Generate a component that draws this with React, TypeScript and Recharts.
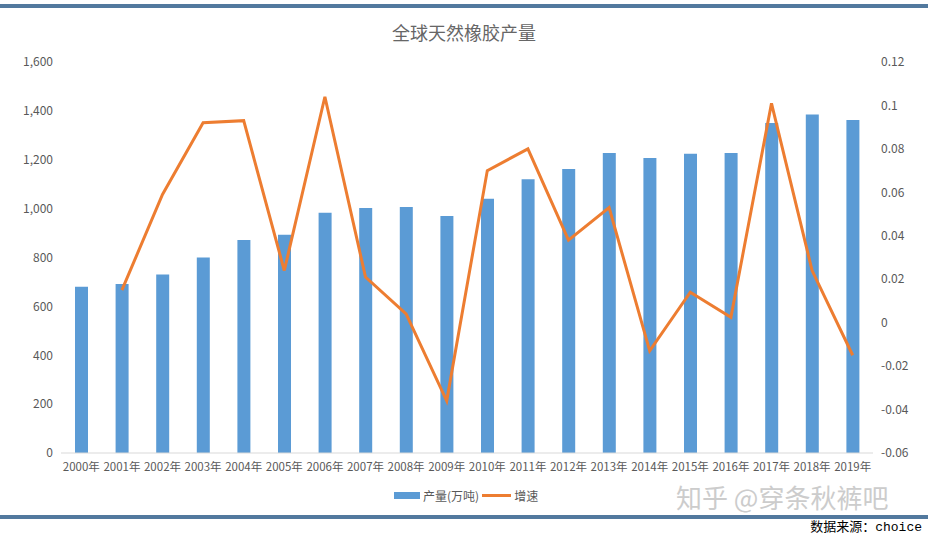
import React from 'react';
import { ComposedChart, Bar, Line, XAxis, YAxis } from 'recharts';

const years = ['2000年', '2001年', '2002年', '2003年', '2004年', '2005年', '2006年', '2007年', '2008年', '2009年', '2010年', '2011年', '2012年', '2013年', '2014年', '2015年', '2016年', '2017年', '2018年', '2019年'];
const output = [680, 692, 730, 800, 872, 893, 983, 1003, 1007, 970, 1040, 1120, 1162, 1228, 1207, 1225, 1228, 1350, 1385, 1363];
const growth: (number | null)[] = [null, 0.015, 0.059, 0.092, 0.093, 0.024, 0.104, 0.021, 0.004, -0.036, 0.07, 0.08, 0.038, 0.053, -0.013, 0.014, 0.0025, 0.101, 0.024, -0.015];
const leftTicks = [0, 200, 400, 600, 800, 1000, 1200, 1400, 1600];
const rightTicks = [-0.06, -0.04, -0.02, 0, 0.02, 0.04, 0.06, 0.08, 0.1, 0.12];

const data = years.map((y, i) => ({ year: y, output: output[i], growth: growth[i] }));

const CJK = "'Noto Sans CJK SC', 'Microsoft YaHei', sans-serif";
const tickStyle = { fill: '#595959', fontSize: 12, fontFamily: CJK };

export default function App() {
  return (
    <div style={{ position: 'absolute', left: 0, top: 0, width: 928, height: 536, background: '#fff', overflow: 'hidden', fontFamily: CJK }}>
      <div style={{ position: 'absolute', left: 0, top: 4, width: 928, height: 3.5, background: '#52799E' }} />
      <div style={{ position: 'absolute', left: 0, top: 22, width: 928, textAlign: 'center', fontSize: 18, color: '#666666', lineHeight: '20px' }}>
        全球天然橡胶产量
      </div>
      <ComposedChart
        width={928}
        height={536}
        data={data}
        margin={{ top: 62, right: 0, bottom: 53, left: 0 }}
        style={{ position: 'absolute', left: 0, top: 0 }}
      >
        <XAxis
          dataKey="year"
          interval={0}
          tickLine={false}
          axisLine={{ stroke: '#D9D9D9' }}
          tick={{ ...tickStyle, fontSize: 11.5 }}
          height={30}
          tickMargin={4}
        />
        <YAxis
          yAxisId="left"
          orientation="left"
          width={61}
          domain={[0, 1600]}
          ticks={leftTicks}
          interval={0}
          axisLine={false}
          tickLine={false}
          tick={tickStyle}
          tickFormatter={(v: number) => v.toLocaleString('en-US')}
        />
        <YAxis
          yAxisId="right"
          orientation="right"
          width={55}
          domain={[-0.06, 0.12]}
          ticks={rightTicks}
          interval={0}
          axisLine={false}
          tickLine={false}
          tick={{ ...tickStyle, textAnchor: 'start' }}
          tickFormatter={(v: number) => String(Number(v.toFixed(2)))}
        />
        <Bar yAxisId="left" dataKey="output" fill="#5B9BD5" barSize={13} isAnimationActive={false} />
        <Line
          yAxisId="right"
          dataKey="growth"
          stroke="#ED7D31"
          strokeWidth={3}
          dot={false}
          activeDot={false}
          connectNulls={false}
          isAnimationActive={false}
          type="linear"
        />
      </ComposedChart>
      <div style={{ position: 'absolute', left: 394, top: 487, height: 16, display: 'flex', alignItems: 'center', fontSize: 12, color: '#595959', whiteSpace: 'nowrap' }}>
        <span style={{ display: 'inline-block', width: 26, height: 7, background: '#5B9BD5', marginRight: 3 }} />
        <span>产量(万吨)</span>
        <span style={{ display: 'inline-block', width: 29, height: 3, background: '#ED7D31', margin: '0 3px 0 3px' }} />
        <span>增速</span>
      </div>
      <div style={{ position: 'absolute', left: 676, top: 480, fontSize: 26, color: '#CCCCCC', whiteSpace: 'nowrap', lineHeight: '34px' }}>
        知乎 @穿条秋裤吧
      </div>
      <div style={{ position: 'absolute', left: 0, top: 515, width: 928, height: 4, background: '#52799E' }} />
      <div style={{ position: 'absolute', right: 6, top: 520, fontSize: 13, color: '#000', whiteSpace: 'nowrap', lineHeight: '16px', fontFamily: "'Liberation Mono', 'Noto Sans CJK SC', monospace" }}>
        数据来源：choice
      </div>
    </div>
  );
}
